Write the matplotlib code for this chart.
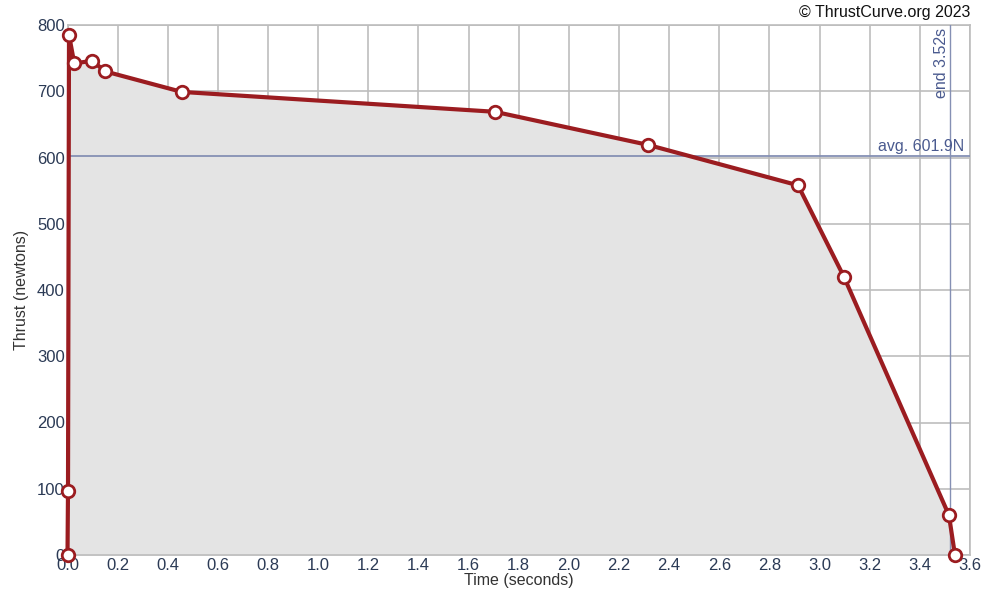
import matplotlib
matplotlib.use('Agg')
import matplotlib.pyplot as plt

# thrust curve samples
timeS = [0.0, 0.002, 0.006, 0.027, 0.099, 0.15, 0.456, 1.705, 2.316, 2.914, 3.097, 3.516, 3.54]
thrustN = [0, 97, 785, 742, 746, 730, 699, 669, 619, 558, 420, 60, 0]
avgThrust = 601.9
burnEnd = 3.52

xTicks = [round(0.2 * i, 1) for i in range(19)]
yTicks = [0, 100, 200, 300, 400, 500, 600, 700, 800]

lineColor = '#9b1c20'
refColor = '#8590b4'
textColor = '#4a5a8f'

fig = plt.figure(figsize=(9.84, 5.92), dpi=100)
ax = fig.add_axes([67.5 / 984, 37 / 592, (970 - 67.5) / 984, 530 / 592])

ax.fill_between(timeS, thrustN, 0, color='#e4e4e4', zorder=1)
ax.plot(timeS, thrustN, color=lineColor, lw=3, zorder=4, clip_on=False,
	marker='o', markersize=9, markerfacecolor='white', markeredgecolor=lineColor, markeredgewidth=2)

ax.axhline(avgThrust, color=refColor, lw=1.3, zorder=3)
ax.axvline(burnEnd, color=refColor, lw=1, zorder=3)
ax.text(3.575, avgThrust + 4, f'avg. {avgThrust}N', color=textColor, fontsize=11.5,
	ha='right', va='bottom', family='Liberation Sans')
ax.text(burnEnd - 0.005, 795, f'end {burnEnd}s', color=textColor, fontsize=11.5,
	rotation=90, ha='right', va='top', family='Liberation Sans')

ax.set_xlim(0, 3.6)
ax.set_ylim(0, 800)
ax.set_xticks(xTicks)
ax.set_xticklabels([f'{t:.1f}' for t in xTicks])
ax.set_yticks(yTicks)
ax.grid(True, color='#bdbdbd', lw=1.2, zorder=0)
ax.set_axisbelow(True)
for side in ax.spines.values():
	side.set_color('#bdbdbd')
	side.set_linewidth(1.2)
ax.tick_params(length=0, pad=2, labelsize=12, colors='#2b3a55')
for lbl in ax.get_xticklabels() + ax.get_yticklabels():
	lbl.set_family('Liberation Sans')

ax.set_xlabel('Time (seconds)', fontsize=11.5, color='#333333', family='Liberation Sans', labelpad=0)
ax.set_ylabel('Thrust (newtons)', fontsize=11.5, color='#333333', family='Liberation Sans', labelpad=6)

fig.text(970 / 984, 1 - 12 / 592, '© ThrustCurve.org 2023', ha='right', va='center',
	fontsize=11.5, color='#111111', family='Liberation Sans')

fig.savefig('out.png', dpi=100)
